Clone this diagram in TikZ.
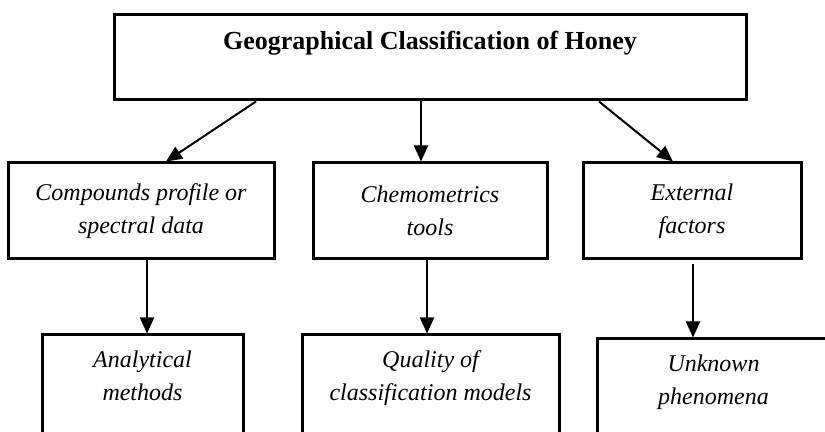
\documentclass[tikz,border=0pt]{standalone}
\usepackage{fontspec}
\setmainfont{Liberation Serif}
\usetikzlibrary{arrows.meta}
\usetikzlibrary{calc}
\tikzset{
  box/.style={draw,line width=1.5pt,rectangle,align=center,inner sep=0pt,font=\fontsize{12}{16.5}\selectfont\itshape},
  arrowline/.style={line width=1pt,-{Triangle[width=7pt,length=8pt]}}
}

\begin{document}
\begin{tikzpicture}[x=0.5pt,y=-0.5pt]
		\useasboundingbox (0,0) rectangle (825,432);
		\clip (0,0) rectangle (825,432);
		%
		\node[box,font=\fontsize{13}{17}\selectfont\bfseries,minimum width=316pt,minimum height=42.5pt] (geo) at (430,57.5) {Geographical Classification of Honey\\ \mbox{}};
		%
		\node[box,minimum width=133pt,minimum height=48pt] (cmp) at (141,211) {Compounds profile or\\spectral data};
		\node[box,minimum width=117pt,minimum height=48pt] (chem) at (430,211) {Chemometrics\\tools};
		\node[box,minimum width=109pt,minimum height=48pt] (ext) at (692,211) {External\\factors};
		%
		\node[box,minimum width=100.5pt,minimum height=57.5pt] (ana) at (142.5,392.5) {Analytical\\methods\\ \mbox{}};
		\node[box,minimum width=128.5pt,minimum height=57.5pt] (qual) at (430.5,392.5) {Quality of\\classification models\\ \mbox{}};
		\node[box,minimum width=116.5pt,minimum height=57.5pt] (unk) at (713.5,396.5) {Unknown\\phenomena\\ \mbox{}};
		%
		\draw[arrowline] ($(geo.south)+(-174,0)$) -- ($(cmp.north)+(25,0)$);
		\draw[arrowline] ($(geo.south)+(-9,0)$) -- ($(chem.north)+(-9,0)$);
		\draw[arrowline] ($(geo.south)+(169,0)$) -- ($(ext.north)+(-19,0)$);
		%
		\draw[arrowline] ($(cmp.south)+(6,0)$) -- ($(ana.north)+(4.5,0)$);
		\draw[arrowline] ($(chem.south)+(-3,0)$) -- ($(qual.north)+(-3.5,0)$);
		\draw[arrowline] ($(ext.south)+(1,4)$) -- ($(unk.north)+(-20.5,0)$);
	\end{tikzpicture}
\end{document}
